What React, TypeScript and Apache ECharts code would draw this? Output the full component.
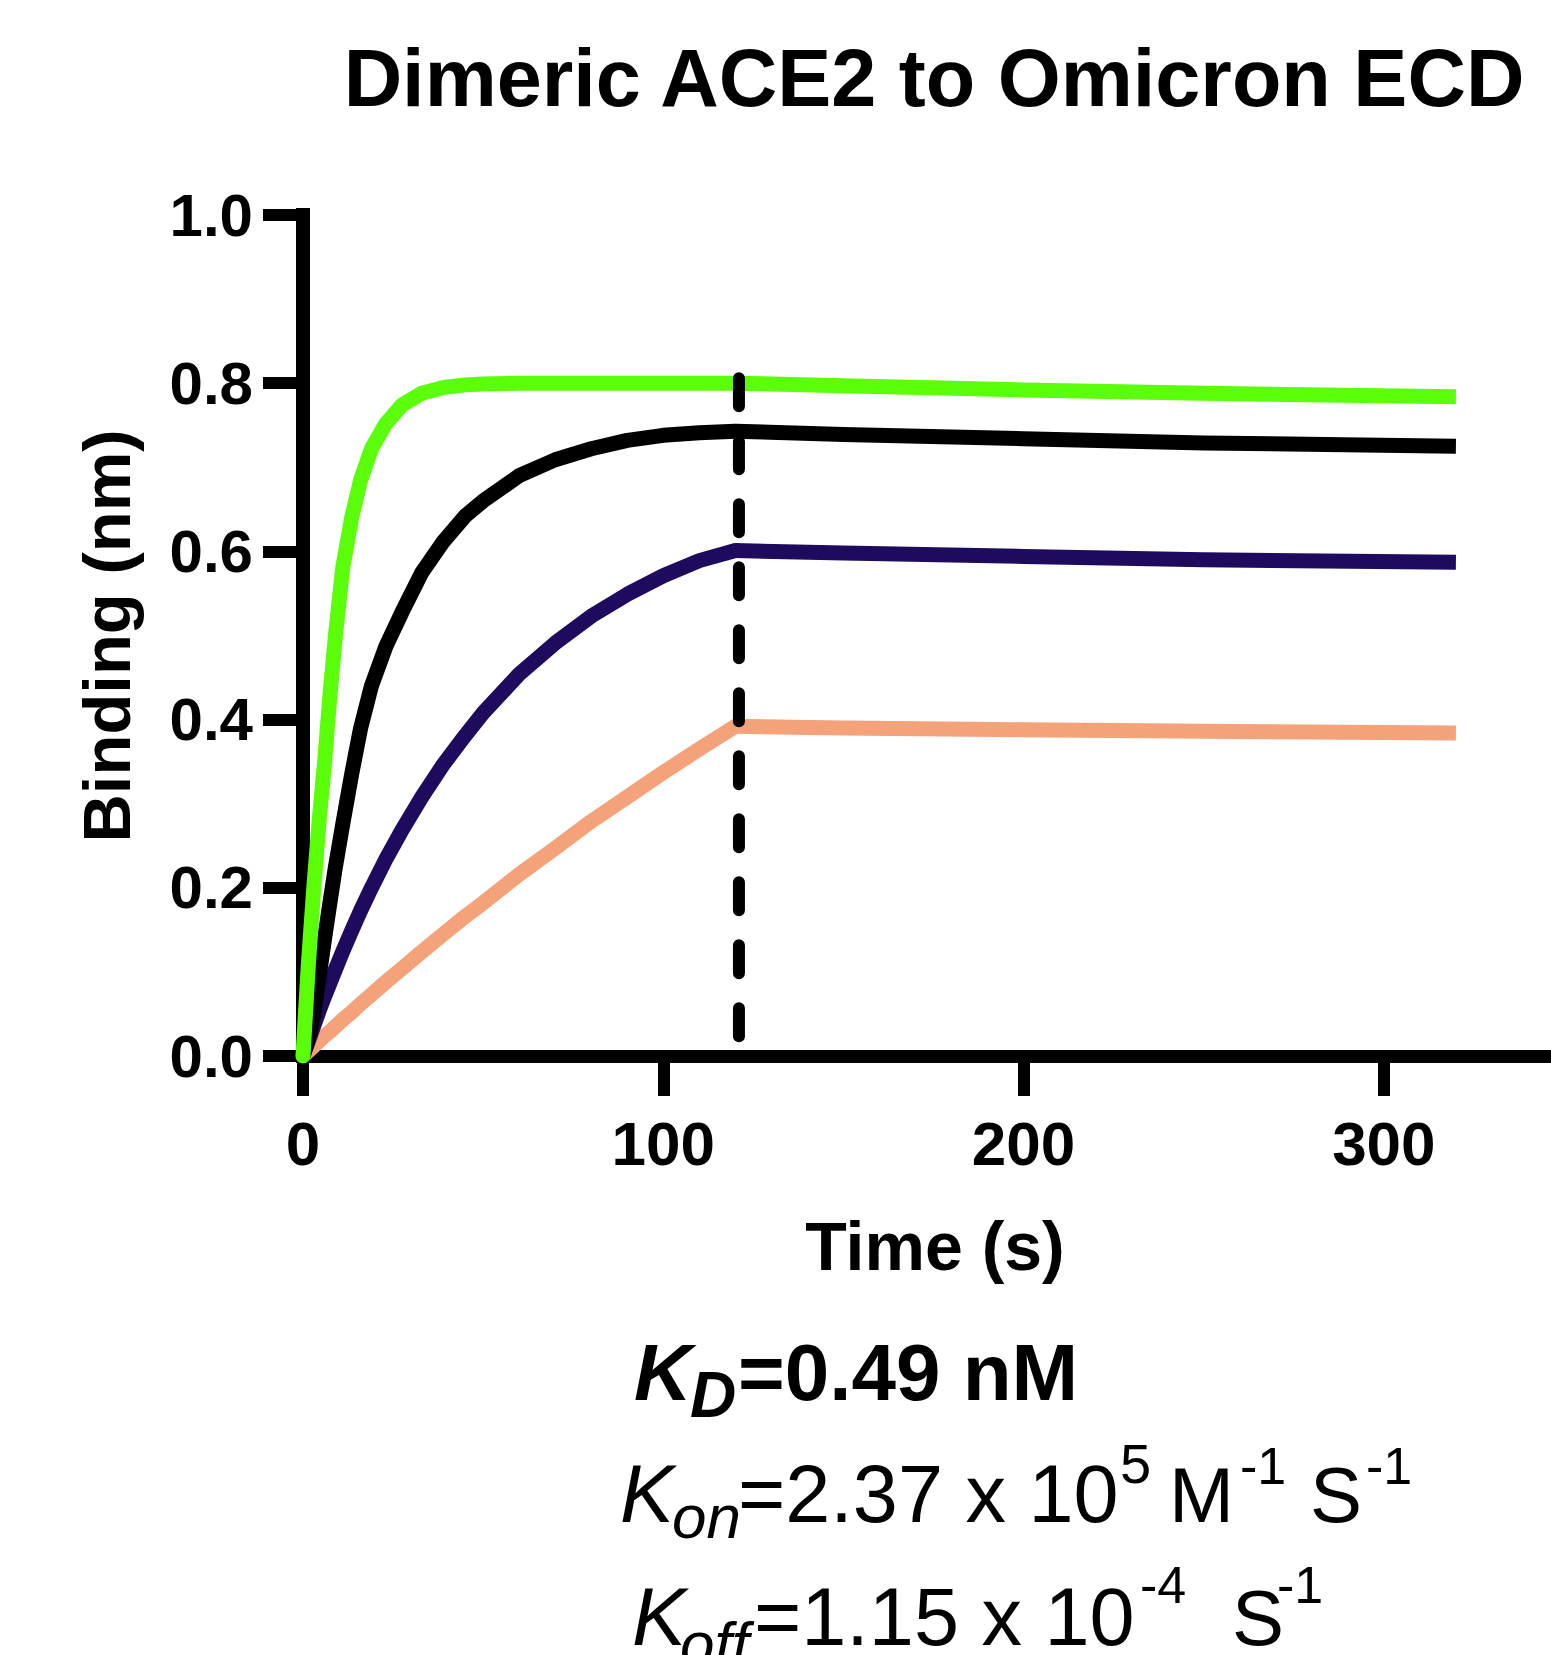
import React, { useEffect, useRef } from "react";
import * as echarts from "echarts";

const FONT = "'Liberation Sans', Arial, Helvetica, sans-serif";

// Association phase: time points (s)
const assocTimes = [0, 1.5, 3, 4.5, 6, 7.5, 9, 11, 13.5, 16, 19, 23, 27.5, 33, 39, 45, 50, 60, 70, 80, 90, 100, 110, 120];
const greenAssoc = [0, 0.11, 0.2, 0.28, 0.35, 0.43, 0.5, 0.58, 0.64, 0.685, 0.722, 0.752, 0.774, 0.788, 0.795, 0.798, 0.799, 0.8, 0.8, 0.8, 0.8, 0.8, 0.8, 0.8];
const blackAssoc = [0, 0.02, 0.05, 0.095, 0.14, 0.183, 0.225, 0.275, 0.335, 0.39, 0.44, 0.487, 0.528, 0.575, 0.612, 0.642, 0.66, 0.69, 0.709, 0.722, 0.732, 0.738, 0.741, 0.743];
const purpleAssoc = [0, 0.018, 0.036, 0.054, 0.071, 0.087, 0.103, 0.124, 0.149, 0.173, 0.2, 0.234, 0.269, 0.308, 0.347, 0.381, 0.408, 0.454, 0.491, 0.523, 0.549, 0.571, 0.589, 0.601];
const orangeAssoc = [0, 0.006, 0.012, 0.018, 0.024, 0.029, 0.035, 0.043, 0.052, 0.062, 0.073, 0.088, 0.104, 0.124, 0.145, 0.166, 0.182, 0.216, 0.247, 0.279, 0.308, 0.337, 0.365, 0.392];

// Dissociation phase
const dissocTimes = [120, 150, 200, 250, 320];
const greenDissoc = [0.8, 0.797, 0.792, 0.788, 0.784];
const blackDissoc = [0.743, 0.739, 0.734, 0.729, 0.725];
const purpleDissoc = [0.601, 0.598, 0.594, 0.59, 0.587];
const orangeDissoc = [0.392, 0.39, 0.388, 0.386, 0.384];

// Dissociation start marker
const dashX = [121, 121];
const dashY = [0.806, 0.019];

const xTicks = [0, 100, 200, 300];
const yTicks = [0, 0.2, 0.4, 0.6, 0.8, 1.0];

const titleText = "Dimeric ACE2 to Omicron ECD";
const xName = "Time (s)";
const yName = "Binding (nm)";

function pairs(xs: number[], ys: number[]) {
  return xs.map((x, i) => [x, ys[i]]);
}

// text helper: baseline -> middle
function txt(text: string, x: number, baseline: number, size: number, opts: any = {}) {
  return {
    type: "text",
    x,
    y: baseline - 0.3465 * size,
    silent: true,
    style: {
      text,
      fontSize: size,
      fontFamily: FONT,
      fontWeight: opts.bold ? "bold" : "normal",
      fontStyle: opts.italic ? "italic" : "normal",
      fill: "#000",
      textAlign: opts.align || "left",
      align: opts.align || "left",
      textVerticalAlign: "middle",
      verticalAlign: "middle",
    },
  };
}

export default function App() {
  const ref = useRef<HTMLDivElement>(null);
  useEffect(() => {
    if (!ref.current) return;
    const chart = echarts.init(ref.current, null, { renderer: "svg" });
    const assoc = (name: string, ys: number[], color: string) => ({
      name,
      type: "line",
      data: pairs(assocTimes, ys),
      symbol: "none",
      smooth: false,
      lineStyle: { color, width: 15, cap: "round", join: "round" },
    });
    const dissoc = (name: string, ys: number[], color: string) => ({
      name,
      type: "line",
      data: pairs(dissocTimes, ys),
      symbol: "none",
      smooth: false,
      lineStyle: { color, width: 15, cap: "butt", join: "round" },
    });
    const option: any = {
      animation: false,
      backgroundColor: "#fff",
      grid: { left: 303, top: 215, width: 1261, height: 841, outerBoundsMode: "none", containLabel: false },
      xAxis: {
        type: "value",
        min: 0,
        max: 350,
        interval: 100,
        axisLine: { show: true, lineStyle: { color: "#000", width: 13, cap: "square" } },
        axisTick: { show: true, length: 40, customValues: xTicks, lineStyle: { color: "#000", width: 12 } },
        axisLabel: {
          margin: 56,
          customValues: xTicks,
          fontSize: 62,
          fontWeight: "bold",
          fontFamily: FONT,
          color: "#000",
        },
        splitLine: { show: false },
      },
      yAxis: {
        type: "value",
        min: 0,
        max: 1,
        interval: 0.2,
        axisLine: { show: true, lineStyle: { color: "#000", width: 14, cap: "square" } },
        axisTick: { show: true, length: 40, customValues: yTicks, lineStyle: { color: "#000", width: 12 } },
        axisLabel: {
          margin: 50,
          customValues: yTicks,
          fontSize: 60,
          fontWeight: "bold",
          fontFamily: FONT,
          color: "#000",
          formatter: (v: number) => v.toFixed(1),
        },
        splitLine: { show: false },
      },
      series: [
        assoc("orange", orangeAssoc, "#F4A27A"),
        dissoc("orange", orangeDissoc, "#F4A27A"),
        assoc("purple", purpleAssoc, "#1F0B5E"),
        dissoc("purple", purpleDissoc, "#1F0B5E"),
        assoc("black", blackAssoc, "#000000"),
        dissoc("black", blackDissoc, "#000000"),
        assoc("green", greenAssoc, "#5CFF0A"),
        dissoc("green", greenDissoc, "#5CFF0A"),
        {
          name: "dissociation",
          type: "line",
          data: pairs(dashX, dashY),
          symbol: "none",
          lineStyle: { color: "#000", width: 12, type: [28, 35], cap: "round" },
          z: 5,
        },
      ],
      graphic: [
        txt(titleText, 934, 106, 81, { bold: true, align: "center" }),
        txt(xName, 935, 1270, 68, { bold: true, align: "center" }),
        {
          ...txt(yName, 0, 0, 67, { bold: true, align: "center" }),
          x: 106,
          y: 636,
          rotation: Math.PI / 2,
        },
        // K_D line
        txt("K", 634, 1400, 80, { bold: true, italic: true }),
        txt("D", 690, 1417, 64, { bold: true, italic: true }),
        txt("=0.49 nM", 738, 1400, 80, { bold: true }),
        // K_on line
        txt("K", 620, 1522, 81, { italic: true }),
        txt("on", 672, 1538, 62, { italic: true }),
        txt("=2.37 x 10", 738, 1522, 81),
        txt("5", 1120, 1483, 56),
        txt("M", 1169, 1522, 78),
        txt("-1", 1240, 1484, 52),
        txt("S", 1310, 1522, 78),
        txt("-1", 1366, 1484, 52),
        // K_off line
        txt("K", 632, 1645, 81, { italic: true }),
        txt("off", 680, 1665, 62, { italic: true }),
        txt("=1.15 x 10", 754, 1645, 81),
        txt("-4", 1140, 1603, 52),
        txt("S", 1232, 1645, 78),
        txt("-1", 1277, 1603, 52),
      ],
    };
    chart.setOption(option);
    return () => chart.dispose();
  }, []);
  return (
    <div
      ref={ref}
      style={{ position: "absolute", left: 0, top: 0, width: 1551, height: 1655, background: "#fff" }}
    />
  );
}
